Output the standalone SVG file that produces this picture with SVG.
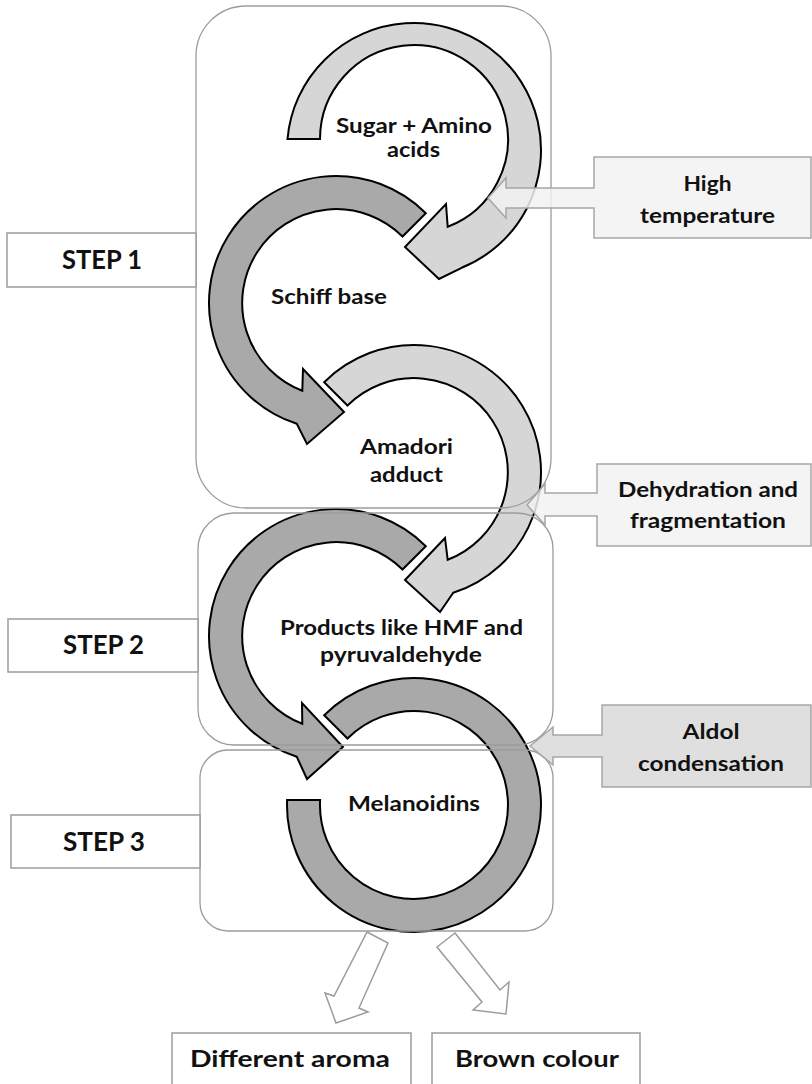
<svg xmlns="http://www.w3.org/2000/svg" width="812" height="1084" viewBox="0 0 812 1084">
<style>
.light{fill:#d6d6d6;stroke:#000;stroke-width:2;stroke-linejoin:miter}
.dark{fill:#a9a9a9;stroke:#000;stroke-width:2;stroke-linejoin:miter}
.stage{fill:none;stroke:#9c9c9c;stroke-width:1.3}
.lbl{fill:#fff;stroke:#9c9c9c;stroke-width:1.5}
.call{fill:#f2f2f2;fill-opacity:0.85;stroke:#a6a6a6;stroke-width:1.5}
.call2{fill:#d9d9d9;fill-opacity:0.85;stroke:#a6a6a6;stroke-width:1.5}
.out{fill:#fff;stroke:#9c9c9c;stroke-width:1.5}
text{font-family:Lato,"Liberation Sans",sans-serif;font-weight:700;fill:#111;text-anchor:middle}
.s21{font-size:21px}
.s20{font-size:20px}
.s27{font-size:27px}
.s23{font-size:23px}
</style>
<rect width="812" height="1084" fill="#fff"/>

<g id="connectors">
  <path id="arrow1" class="light" d="M287.5,139 A127,127 0 1 1 461.6,267.8 L439,279 L405,247 L446,204 L447.7,226.8 A94,94 0 1 0 320,139 Z"/>
  <path id="arrow2" class="dark" d="M425.8,213.2 A127,127 0 1 0 296.8,423.8 L307,444 L344,412 L303,369 L302.3,390.8 A94,94 0 1 1 402.5,236.5 Z"/>
  <path id="arrow3" class="light" d="M324.2,382.2 A127,127 0 1 1 453.2,592.8 L440,612 L405,580 L445,538 L447.7,559.8 A94,94 0 1 0 347.5,405.5 Z"/>
  <path id="arrow4" class="dark" d="M425.8,546.2 A127,127 0 1 0 296.8,756.8 L307,779 L343,747 L302,703 L302.3,723.8 A94,94 0 1 1 402.5,569.5 Z"/>
  <path id="arrow5" class="dark" d="M324.2,715.2 A127,127 0 1 1 287.1,800 L320.1,800 A94,94 0 1 0 347.5,738.5 Z"/>
  <path id="out-aroma" class="out" d="M367,932 L388,943 L359,1008 L368,1012 L336,1023 L325,993 L334,996 Z"/>
  <path id="out-colour" class="out" d="M455,933 L500,990 L509,982 L506,1014 L473,1010 L482,1002 L437,947 Z"/>
</g>

<g id="stage1"><rect class="stage" x="196" y="6" width="355" height="502" rx="50" ry="50"/></g>
<g id="stage2"><rect class="stage" x="198" y="513" width="355" height="232" rx="36" ry="36"/></g>
<g id="stage3"><rect class="stage" x="200" y="750" width="353" height="181" rx="28" ry="28"/></g>

<g id="step1"><rect class="lbl" x="7" y="233" width="189" height="54"/><text class="s27" x="102" y="269" textLength="80" lengthAdjust="spacingAndGlyphs">STEP 1</text></g>
<g id="step2"><rect class="lbl" x="8" y="619" width="190" height="53"/><text class="s27" x="103.5" y="654" textLength="81" lengthAdjust="spacingAndGlyphs">STEP 2</text></g>
<g id="step3"><rect class="lbl" x="11" y="815" width="189" height="53"/><text class="s27" x="104" y="851" textLength="82" lengthAdjust="spacingAndGlyphs">STEP 3</text></g>

<g id="high-temperature">
  <path class="call" d="M811,157 H594 V188 H506 V178 L488,198 L506,218 V208 H594 V238 H811 Z"/>
  <text class="s20" x="707.5" y="191" textLength="48" lengthAdjust="spacingAndGlyphs">High</text>
  <text class="s20" x="707.5" y="223" textLength="135" lengthAdjust="spacingAndGlyphs">temperature</text>
</g>
<g id="dehydration">
  <path class="call" d="M811,464 H597 V493 H545 V484 L527,505 L545,525 V516 H597 V546 H811 Z"/>
  <text class="s20" x="708" y="497" textLength="180" lengthAdjust="spacingAndGlyphs">Dehydration and</text>
  <text class="s20" x="708" y="528" textLength="156" lengthAdjust="spacingAndGlyphs">fragmentation</text>
</g>
<g id="aldol">
  <path class="call2" d="M811,705 H602 V735 H553 V727 L530,746 L553,765 V757 H602 V787 H811 Z"/>
  <text class="s20" x="711" y="739" textLength="57" lengthAdjust="spacingAndGlyphs">Aldol</text>
  <text class="s20" x="711" y="771" textLength="146" lengthAdjust="spacingAndGlyphs">condensation</text>
</g>

<g id="sugar"><text class="s21" x="414" y="133" textLength="156" lengthAdjust="spacingAndGlyphs">Sugar + Amino</text><text class="s21" x="413.5" y="157" textLength="53" lengthAdjust="spacingAndGlyphs">acids</text></g>
<g id="schiff"><text class="s21" x="329" y="304" textLength="116" lengthAdjust="spacingAndGlyphs">Schiff base</text></g>
<g id="amadori"><text class="s21" x="406.5" y="454" textLength="93" lengthAdjust="spacingAndGlyphs">Amadori</text><text class="s21" x="406.5" y="482" textLength="73" lengthAdjust="spacingAndGlyphs">adduct</text></g>
<g id="products"><text class="s21" x="401.5" y="635" textLength="243" lengthAdjust="spacingAndGlyphs">Products like HMF and</text><text class="s21" x="401" y="662" textLength="162" lengthAdjust="spacingAndGlyphs">pyruvaldehyde</text></g>
<g id="melanoidins"><text class="s21" x="414" y="811" textLength="132" lengthAdjust="spacingAndGlyphs">Melanoidins</text></g>

<g id="aroma"><rect class="lbl" x="172" y="1033" width="239" height="60"/><text class="s23" x="290" y="1067" textLength="200" lengthAdjust="spacingAndGlyphs">Different aroma</text></g>
<g id="colour"><rect class="lbl" x="432" y="1033" width="208" height="60"/><text class="s23" x="537" y="1067" textLength="164" lengthAdjust="spacingAndGlyphs">Brown colour</text></g>
</svg>
